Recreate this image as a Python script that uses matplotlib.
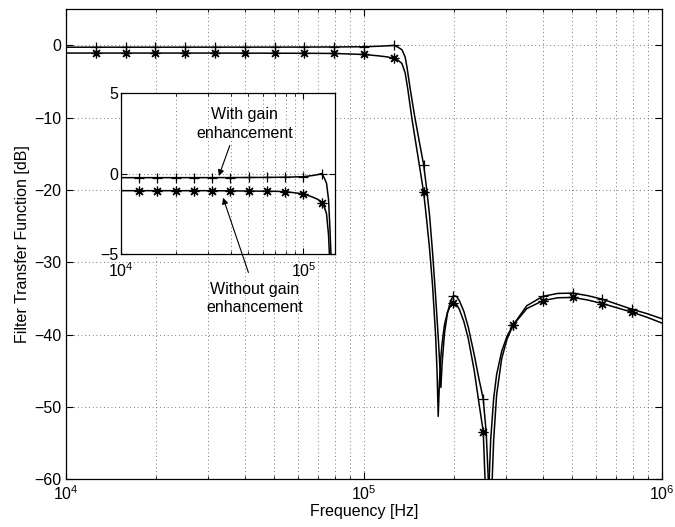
import numpy as np
import matplotlib
matplotlib.use("Agg")
import matplotlib.pyplot as plt
from matplotlib.ticker import LogLocator, NullFormatter, FixedLocator

plt.rcParams['font.family'] = ['Liberation Sans', 'DejaVu Sans']
plt.rcParams['axes.unicode_minus'] = True

# ---- data (frequencies in kHz, gains in dB) ----
with_freq_khz = [10, 20, 40, 60, 80, 100, 112, 120, 126, 130.0, 134.0, 137.4, 139.6, 142.6,
                 147.6, 153.1, 158.5, 162.2, 166.0, 169.8, 173.8, 177.8, 179.9, 181.1, 182.8,
                 186.2, 190.6, 195.0, 199.5, 204.2, 208.9, 216.3, 223.9, 234.4, 242.7, 251.2,
                 257.0, 261.2, 264.9, 269.2, 272.3, 278.6, 289.7, 302.0, 316.2, 351.6, 398.1,
                 446.7, 501.2, 562.3, 631.0, 707.9, 794.3, 891.3, 1000]
with_gain_db = [-0.25, -0.25, -0.245, -0.235, -0.22, -0.19, -0.12, -0.06, 0.0, -0.25, -0.6, -1.6,
                -3.2, -5.8, -9.6, -13.2, -16.5, -19.8, -23.6, -28.6, -34.6, -41.0, -44.8, -47.3,
                -44.0, -39.8, -37.0, -35.4, -34.6, -34.7, -35.3, -36.8, -39.0, -42.8, -46.0,
                -48.9, -53.5, -60.0, -75.0, -60.0, -54.5, -48.3, -43.3, -40.6, -38.7, -36.0,
                -34.7, -34.3, -34.25, -34.6, -35.1, -35.8, -36.5, -37.1, -37.8]

without_freq_khz = [10, 30, 50, 70, 80, 100, 112, 120, 126, 130, 134, 137.4, 140.3, 144.5,
                    153.1, 158.5, 162.2, 166.0, 169.8, 173.8, 175.8, 177.4, 179.1, 181.1, 182.8,
                    186.2, 190.6, 195.0, 199.5, 204.2, 208.9, 216.3, 223.9, 234.4, 242.7, 251.2,
                    254.7, 258.8, 263.0, 266.1, 272.3, 278.6, 289.7, 302.0, 316.2, 351.6, 398.1,
                    446.7, 501.2, 562.3, 631.0, 707.9, 794.3, 891.3, 1000]
without_gain_db = [-1.06, -1.06, -1.08, -1.1, -1.12, -1.26, -1.45, -1.6, -1.8, -2.05, -2.5, -3.8,
                   -6.1, -9.9, -16.4, -20.3, -24.1, -28.2, -33.2, -40.0, -45.0, -51.3, -46.5,
                   -43.0, -41.2, -38.6, -36.9, -36.0, -35.6, -35.8, -36.5, -38.2, -40.6, -45.0,
                   -49.3, -53.4, -60.0, -75.0, -60.0, -54.5, -48.8, -45.5, -42.3, -40.2, -38.7,
                   -36.4, -35.3, -34.9, -34.85, -35.2, -35.7, -36.3, -36.9, -37.6, -38.4]

marker_freq_khz = [12.59, 15.85, 19.95, 25.12, 31.62, 39.81, 50.12, 63.10, 79.43, 100.0,
                   125.9, 158.5, 199.5, 251.2, 316.2, 398.1, 501.2, 631.0, 794.3]
marker_with_db = [-0.25, -0.25, -0.25, -0.25, -0.245, -0.24, -0.235, -0.225, -0.215, -0.19,
                  0.0, -16.5, -34.6, -48.9, -38.7, -34.7, -34.25, -35.1, -36.5]
marker_without_db = [-1.06, -1.06, -1.06, -1.06, -1.07, -1.07, -1.08, -1.1, -1.12, -1.26,
                     -1.8, -20.3, -35.6, -53.4, -38.7, -35.3, -34.85, -35.7, -36.9]

main_yticks = [-60, -50, -40, -30, -20, -10, 0]
inset_yticks = [-5, 0, 5]

# ---- figure ----
fig = plt.figure(figsize=(6.75, 5.27), dpi=100)
ax = fig.add_axes([0.0978, 0.0905, 0.883, 0.892])

wf = np.array(with_freq_khz) * 1e3
nf = np.array(without_freq_khz) * 1e3
mf = np.array(marker_freq_khz) * 1e3

star = (8, 2, 0)
grid_kw = dict(color='0.3', linestyle=(0, (1, 3.5)), linewidth=0.6)


def draw(a, ms):
    a.plot(wf, with_gain_db, color='k', lw=1.1)
    a.plot(nf, without_gain_db, color='k', lw=1.1)
    a.plot(mf, marker_with_db, linestyle='none', marker='+', ms=ms, mew=0.9, color='k')
    a.plot(mf, marker_without_db, linestyle='none', marker=star, ms=ms, mew=0.9, color='k')


draw(ax, 7)
ax.set_xscale('log')
ax.set_xlim(1e4, 1e6)
ax.set_ylim(-60, 5)
ax.set_yticks(main_yticks)
ax.xaxis.set_major_locator(LogLocator(base=10, numticks=10))
ax.xaxis.set_minor_locator(LogLocator(base=10, subs=np.arange(2, 10), numticks=20))
ax.xaxis.set_minor_formatter(NullFormatter())
ax.grid(True, which='major', axis='both', **grid_kw)
ax.grid(True, which='minor', axis='x', **grid_kw)
ax.tick_params(which='both', direction='in', top=True, right=True, labelsize=11.5)
ax.tick_params(which='major', length=5, width=0.8)
ax.tick_params(which='minor', length=2.5, width=0.6)
ax.set_xlabel('Frequency [Hz]', fontsize=11.5, labelpad=1)
ax.set_ylabel('Filter Transfer Function [dB]', fontsize=11.5, labelpad=3)
for s in ax.spines.values():
    s.set_linewidth(0.9)

# ---- inset ----
axi = fig.add_axes([0.179, 0.518, 0.318, 0.305])
draw(axi, 7)
axi.set_xscale('log')
axi.set_xlim(1e4, 1.5e5)
axi.set_ylim(-5, 5)
axi.set_yticks(inset_yticks)
axi.xaxis.set_major_locator(FixedLocator([1e4, 1e5]))
axi.xaxis.set_minor_locator(LogLocator(base=10, subs=np.arange(2, 10), numticks=20))
axi.xaxis.set_minor_formatter(NullFormatter())
axi.grid(True, which='major', axis='both', **grid_kw)
axi.grid(True, which='minor', axis='x', **grid_kw)
axi.tick_params(which='both', direction='in', top=True, right=True, labelsize=11.5)
axi.tick_params(which='major', length=4, width=0.8)
axi.tick_params(which='minor', length=2, width=0.6)
axi.tick_params(axis='x', pad=5)
axi.tick_params(axis='y', pad=2)
for s in axi.spines.values():
    s.set_linewidth(0.9)

arrow_kw = dict(arrowstyle='-|>', color='k', lw=0.8, mutation_scale=9, shrinkA=0, shrinkB=0)
axi.text(10**4.679, 3.1, 'With gain\nenhancement', ha='center', va='center',
         fontsize=11.5, linespacing=1.3)
axi.annotate('', xy=(10**4.537, -0.15), xycoords='data',
             xytext=(10**4.597, 1.75), textcoords='data',
             arrowprops=arrow_kw, annotation_clip=False)
axi.annotate('', xy=(10**4.56, -1.5), xycoords='data',
             xytext=(10**4.612, -31.4), textcoords=ax.transData,
             arrowprops=arrow_kw, annotation_clip=False)
ax.text(10**4.634, -35.0, 'Without gain\nenhancement', ha='center', va='center',
        fontsize=11.5, linespacing=1.25)

fig.savefig('out.png', dpi=100)
